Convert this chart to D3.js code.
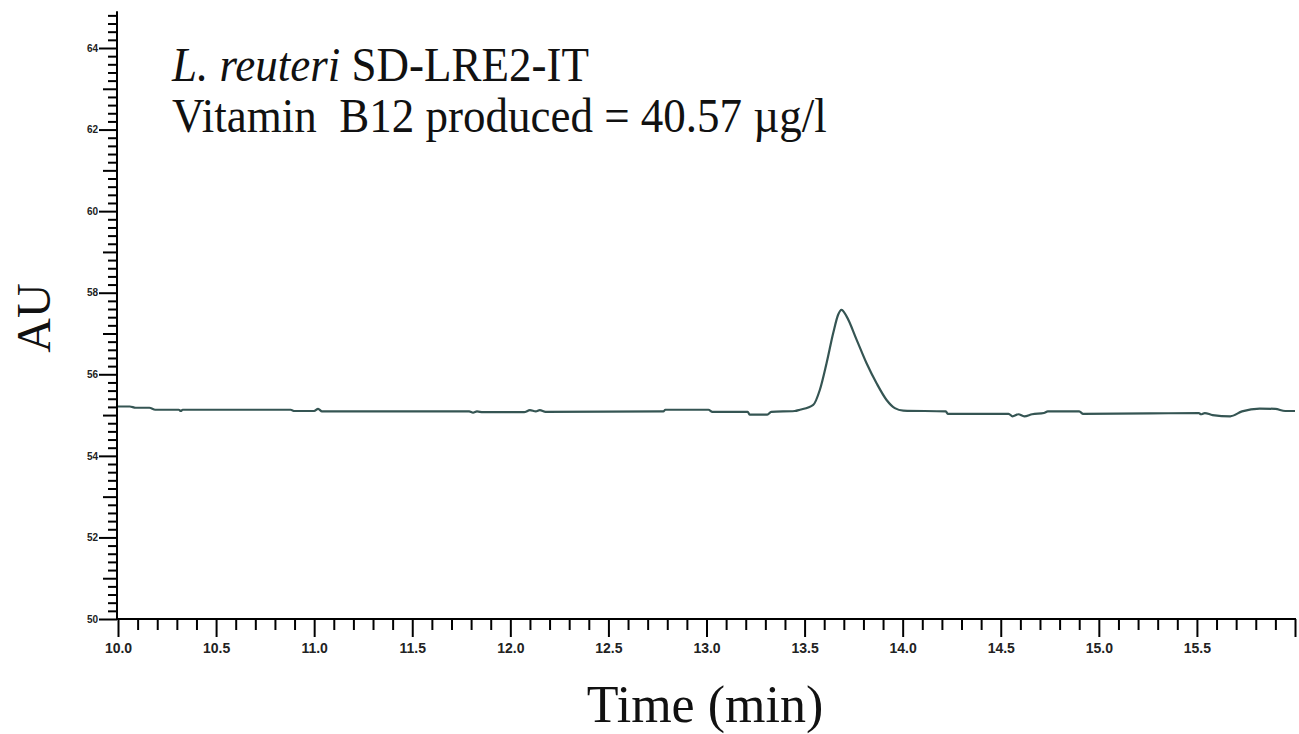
<!DOCTYPE html>
<html>
<head>
<meta charset="utf-8">
<script src="https://cdn.jsdelivr.net/npm/d3@7"></script>
<style>
  html, body { margin: 0; padding: 0; background: #fff; }
  svg { display: block; }
</style>
</head>
<body>
<svg id="chart" width="1299" height="734"></svg>
<script>
// ---- Data ----
const timeMin = [
  10.00, 10.06, 10.09, 10.16, 10.19, 10.31, 10.32, 10.33, 10.88, 10.90, 11.00, 11.02, 11.04,
  11.79, 11.81, 11.83, 11.86, 12.07, 12.10, 12.13, 12.15, 12.18, 12.78, 12.79, 13.01, 13.03,
  13.21, 13.22, 13.31, 13.33, 13.45, 13.476, 13.544, 13.578, 13.612, 13.646, 13.671, 13.688,
  13.714, 13.765, 13.816, 13.867, 13.918, 13.960, 14.003, 14.22, 14.23, 14.54, 14.56, 14.59,
  14.62, 14.66, 14.72, 14.74, 14.90, 14.92, 15.26, 15.51, 15.52, 15.54, 15.58, 15.67, 15.73,
  15.82, 15.90, 15.95, 16.00
];
const absorbance = [
  55.21, 55.21, 55.18, 55.18, 55.13, 55.13, 55.10, 55.13, 55.13, 55.10, 55.10, 55.15, 55.09,
  55.09, 55.06, 55.09, 55.07, 55.07, 55.12, 55.09, 55.12, 55.08, 55.09, 55.13, 55.13, 55.08,
  55.08, 55.01, 55.01, 55.08, 55.10, 55.13, 55.25, 55.62, 56.27, 57.01, 57.46, 57.58,
  57.42, 56.85, 56.27, 55.78, 55.37, 55.17, 55.11, 55.09, 55.03, 55.03, 54.97, 55.02,
  54.97, 55.02, 55.05, 55.09, 55.09, 55.03, 55.04, 55.05, 55.02, 55.05, 55.00, 54.97, 55.09,
  55.16, 55.15, 55.10, 55.10
];
const xMajorTicks = [10.0, 10.5, 11.0, 11.5, 12.0, 12.5, 13.0, 13.5, 14.0, 14.5, 15.0, 15.5];
const xTickLabels = ["10.0", "10.5", "11.0", "11.5", "12.0", "12.5", "13.0", "13.5", "14.0", "14.5", "15.0", "15.5"];
const yMajorTicks = [50, 52, 54, 56, 58, 60, 62, 64];
const yTickLabels = ["50", "52", "54", "56", "58", "60", "62", "64"];
const annotationStrain = ["L. reuteri", " SD-LRE2-IT"];
const annotationResult = "Vitamin  B12 produced = 40.57 \u00b5g/l";
const xTitle = "Time (min)";
const yTitle = "AU";

// ---- Drawing ----
const svg = d3.select("#chart");
const x = d3.scaleLinear().domain([10, 16]).range([118, 1295]);
const y = d3.scaleLinear().domain([50, 64]).range([619, 48]);
const yTop = 64.9;

const lineCol = "#000";

// minor tick helpers
const xMinor = d3.range(0, 61).map(i => 10 + i * 0.1).filter(v => Math.abs(v * 2 - Math.round(v * 2)) > 1e-6);
const yMinor = d3.range(0, 75).map(i => 50 + i * 0.2).filter(v => Math.abs(v - Math.round(v)) > 1e-6);
const yMid = [51, 53, 55, 57, 59, 61, 63];

// X axis
const gx = svg.append("g").attr("transform", `translate(0,619)`);
gx.append("g").call(d3.axisBottom(x).tickValues(xMinor).tickSize(11).tickFormat(""))
  .call(g => g.select(".domain").remove());
gx.append("g").call(d3.axisBottom(x).tickValues(xMajorTicks.concat([16])).tickSize(18).tickPadding(6)
    .tickFormat((d, i) => i < xTickLabels.length ? xTickLabels[i] : ""))
  .call(g => g.select(".domain").remove());
gx.selectAll("line").attr("stroke", lineCol).attr("stroke-width", 2);
gx.selectAll("text").attr("font-family", "'Liberation Sans', Arial, sans-serif")
  .attr("font-weight", "bold").attr("font-size", 14).attr("fill", "#222");
gx.append("line").attr("x1", x(10) - 1).attr("x2", x(16) + 1).attr("y1", 0).attr("y2", 0)
  .attr("stroke", lineCol).attr("stroke-width", 2);

// Y axis
const gy = svg.append("g").attr("transform", `translate(117,0)`);
gy.append("g").call(d3.axisLeft(y).tickValues(yMinor).tickSize(9).tickFormat(""))
  .call(g => g.select(".domain").remove());
gy.append("g").call(d3.axisLeft(y).tickValues(yMid).tickSize(14).tickFormat(""))
  .call(g => g.select(".domain").remove());
gy.append("g").call(d3.axisLeft(y).tickValues(yMajorTicks).tickSize(18).tickPadding(1)
    .tickFormat((d, i) => yTickLabels[i]))
  .call(g => g.select(".domain").remove());
gy.selectAll("line").attr("stroke", lineCol).attr("stroke-width", 2);
gy.selectAll("text").attr("font-family", "'Liberation Sans', Arial, sans-serif")
  .attr("font-weight", "bold").attr("font-size", 10).attr("fill", "#222");
gy.append("line").attr("x1", 0).attr("x2", 0).attr("y1", y(yTop)).attr("y2", 620)
  .attr("stroke", lineCol).attr("stroke-width", 2);

// Chromatogram trace
const pts = timeMin.map((t, i) => [t, absorbance[i]]);
svg.append("path")
  .datum(pts)
  .attr("fill", "none")
  .attr("stroke", "#355553")
  .attr("stroke-width", 2.2)
  .attr("stroke-linejoin", "round")
  .attr("d", d3.line().x(d => x(d[0])).y(d => y(d[1])).curve(d3.curveMonotoneX));

// Annotation
const serif = "'Liberation Serif', 'Times New Roman', serif";
const t1 = svg.append("text").attr("transform", "translate(172,81) scale(1,1.08)")
  .attr("font-family", serif).attr("font-size", 45).attr("fill", "#111");
t1.append("tspan").attr("font-style", "italic").text(annotationStrain[0]);
t1.append("tspan").text(annotationStrain[1]);
svg.append("text").attr("transform", "translate(172,132) scale(1,1.08)")
  .attr("font-family", serif).attr("font-size", 45).attr("fill", "#111")
  .style("white-space", "pre").text(annotationResult);

// Axis titles
svg.append("text").attr("x", 705).attr("y", 722).attr("text-anchor", "middle")
  .attr("font-family", serif).attr("font-size", 52).attr("fill", "#111").text(xTitle);
svg.append("text").attr("transform", "translate(50,318) rotate(-90)").attr("text-anchor", "middle")
  .attr("font-family", serif).attr("font-size", 48).attr("fill", "#111").text(yTitle);
</script>
</body>
</html>
